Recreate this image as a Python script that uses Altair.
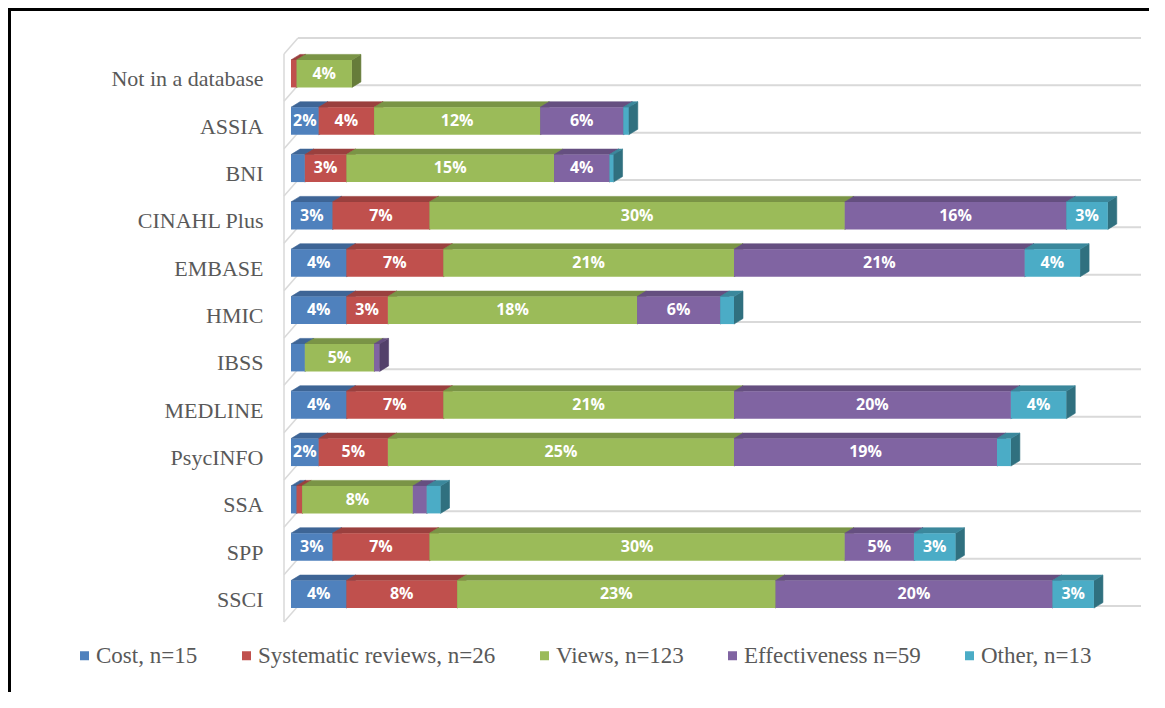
import json
import altair as alt
import pandas as pd

# ---------------- data ----------------
categories = ["Not in a database", "ASSIA", "BNI", "CINAHL Plus", "EMBASE", "HMIC",
              "IBSS", "MEDLINE", "PsycINFO", "SSA", "SPP", "SSCI"]
series = ["Cost, n=15", "Systematic reviews, n=26", "Views, n=123",
          "Effectiveness n=59", "Other, n=13"]
cost = [0, 2, 1, 3, 4, 4, 1, 4, 2, 0.4, 3, 4]
sysrev = [0.4, 4, 3, 7, 7, 3, 0, 7, 5, 0.4, 7, 8]
views = [4, 12, 15, 30, 21, 18, 5, 21, 25, 8, 30, 23]
effect = [0, 6, 4, 16, 21, 6, 0.4, 20, 19, 1, 5, 20]
other = [0, 0.4, 0.3, 3, 4, 1, 0, 4, 1, 1, 3, 3]
values = [cost, sysrev, views, effect, other]

# ---------------- style ----------------
front_colors = ["#4F81BD", "#C0504D", "#9BBB59", "#8064A2", "#4BACC6"]
top_colors = ["#3E6596", "#9A403E", "#7A9446", "#654F80", "#3B889C"]
side_colors = ["#33557D", "#7F322F", "#667C3A", "#53416A", "#30707F"]

W, H = 850, 568
XMAX = 61.4
PXX = W / XMAX
PXY = H / len(categories)
DX = 9 / PXX          # depth of bars (x)
DY = 5.5 / PXY        # depth of bars (y)
HALF = 13.75 / PXY    # half height of front face
WALL_F = 7 / PXX      # wall front x offset
WALL_B = 7 / PXX      # wall back x offset
WF_Y = 4 / PXY
WB_Y = 12 / PXY

# ---------------- tables ----------------
front_rows, top_rows, side_rows = [], [], []
seg = 0
for i, cat in enumerate(categories):
    cum = 0.0
    for j, s in enumerate(series):
        v = values[j][i]
        if v <= 0:
            continue
        st, en = cum, cum + v
        cum = en
        front_rows.append(dict(series=s, row=i, xs=st, xe=en, y1=i - HALF, y2=i + HALF,
                               mid=(st + en) / 2,
                               label=f"{round(v)}%" if v >= 2 else ""))
        top_rows.append(dict(seg=seg, yy=i - HALF - DY, xa=st + DX, xb=en + DX, c=top_colors[j]))
        top_rows.append(dict(seg=seg, yy=i - HALF, xa=st, xb=en, c=top_colors[j]))
        side_rows.append(dict(seg=seg, xx=en, ya=i - HALF, yb=i + HALF, c=side_colors[j]))
        side_rows.append(dict(seg=seg, xx=en + DX, ya=i - HALF - DY, yb=i + HALF - DY, c=side_colors[j]))
        seg += 1

front_df = pd.DataFrame(front_rows)
top_df = pd.DataFrame(top_rows)
side_df = pd.DataFrame(side_rows)

bounds = [k - 0.5 for k in range(len(categories) + 1)]
grid_df = pd.DataFrame(dict(x=[WALL_B] * len(bounds), x2=[XMAX] * len(bounds),
                            y=[b - WB_Y for b in bounds]))
diag_df = pd.DataFrame(dict(x=[-WALL_F] * len(bounds), x2=[WALL_B] * len(bounds),
                            y=[b + WF_Y for b in bounds], y2=[b - WB_Y for b in bounds]))
wall_df = pd.DataFrame(dict(x=[-WALL_F], y=[bounds[0] + WF_Y], y2=[bounds[-1] + WF_Y]))

xscale = alt.Scale(domain=[0, XMAX], nice=False, zero=False)
yscale = alt.Scale(domain=[-0.5, len(categories) - 0.5], reverse=True, nice=False, zero=False)
label_expr = json.dumps(categories) + "[datum.value]"
yaxis = alt.Axis(values=list(range(len(categories))), labelExpr=label_expr, domain=False,
                 ticks=False, grid=False, labelPadding=28, labelOffset=5,
                 labelFont="Liberation Serif", labelFontSize=22, labelColor="#595959",
                 labelLimit=400, title=None)

GRID = "#d9d9d9"

gridlines = alt.Chart(grid_df).mark_rule(color=GRID, strokeWidth=2).encode(
    x=alt.X("x:Q", scale=xscale, axis=None), x2="x2:Q",
    y=alt.Y("y:Q", scale=yscale, axis=yaxis))
diags = alt.Chart(diag_df).mark_rule(color=GRID, strokeWidth=1.5).encode(
    x=alt.X("x:Q", scale=xscale, axis=None), x2="x2:Q",
    y=alt.Y("y:Q", scale=yscale, axis=yaxis), y2="y2:Q")
wall = alt.Chart(wall_df).mark_rule(color=GRID, strokeWidth=1.5).encode(
    x=alt.X("x:Q", scale=xscale, axis=None),
    y=alt.Y("y:Q", scale=yscale, axis=yaxis), y2="y2:Q")

sides = alt.Chart(side_df).mark_area(orient="vertical", strokeWidth=0.6).encode(
    x=alt.X("xx:Q", scale=xscale, axis=None, stack=None),
    y=alt.Y("ya:Q", scale=yscale, axis=yaxis, stack=None), y2="yb:Q",
    detail="seg:N",
    color=alt.Color("c:N", scale=None), stroke=alt.Stroke("c:N", scale=None))
tops = alt.Chart(top_df).mark_area(orient="horizontal", strokeWidth=0.6).encode(
    y=alt.Y("yy:Q", scale=yscale, axis=yaxis, stack=None),
    x=alt.X("xa:Q", scale=xscale, axis=None, stack=None), x2="xb:Q",
    detail="seg:N",
    color=alt.Color("c:N", scale=None), stroke=alt.Stroke("c:N", scale=None))

fronts = alt.Chart(front_df).mark_rect().encode(
    x=alt.X("xs:Q", scale=xscale, axis=None), x2="xe:Q",
    y=alt.Y("y1:Q", scale=yscale, axis=yaxis), y2="y2:Q",
    color=alt.Color("series:N", scale=alt.Scale(domain=series, range=front_colors),
                    legend=alt.Legend(orient="none", direction="horizontal",
                                      legendX=-218, legendY=594, title=None,
                                      symbolType="square", symbolSize=81,
                                      symbolStrokeWidth=0, labelFont="Liberation Serif",
                                      labelFontSize=23, labelColor="#595959",
                                      columnPadding=37, labelOffset=0, labelLimit=400)))

labels = alt.Chart(front_df).transform_filter("datum.label != ''").mark_text(
    font="Open Sans", fontWeight="bold", fontSize=16, color="white", baseline="middle").encode(
    x=alt.X("mid:Q", scale=xscale, axis=None),
    y=alt.Y("row:Q", scale=yscale, axis=yaxis), text="label:N")

frame_top = alt.Chart(wall_df).mark_rule(color="black", strokeWidth=3).encode(
    x=alt.value(-281.5), x2=alt.value(W + 10), y=alt.value(-40.5))
frame_left = alt.Chart(wall_df).mark_rule(color="black", strokeWidth=3).encode(
    x=alt.value(-281.5), y=alt.value(-42), y2=alt.value(H + 80))

chart = alt.layer(gridlines, diags, wall, sides, tops, fronts, labels, frame_top, frame_left).properties(
    width=W, height=H,
    padding={"left": 283, "top": 42, "right": 8, "bottom": 74},
    autosize=alt.AutoSizeParams(type="none"),
    background="white",
).configure_view(stroke=None)

chart.save("out.html", embed_options={"renderer": "svg", "actions": False})
